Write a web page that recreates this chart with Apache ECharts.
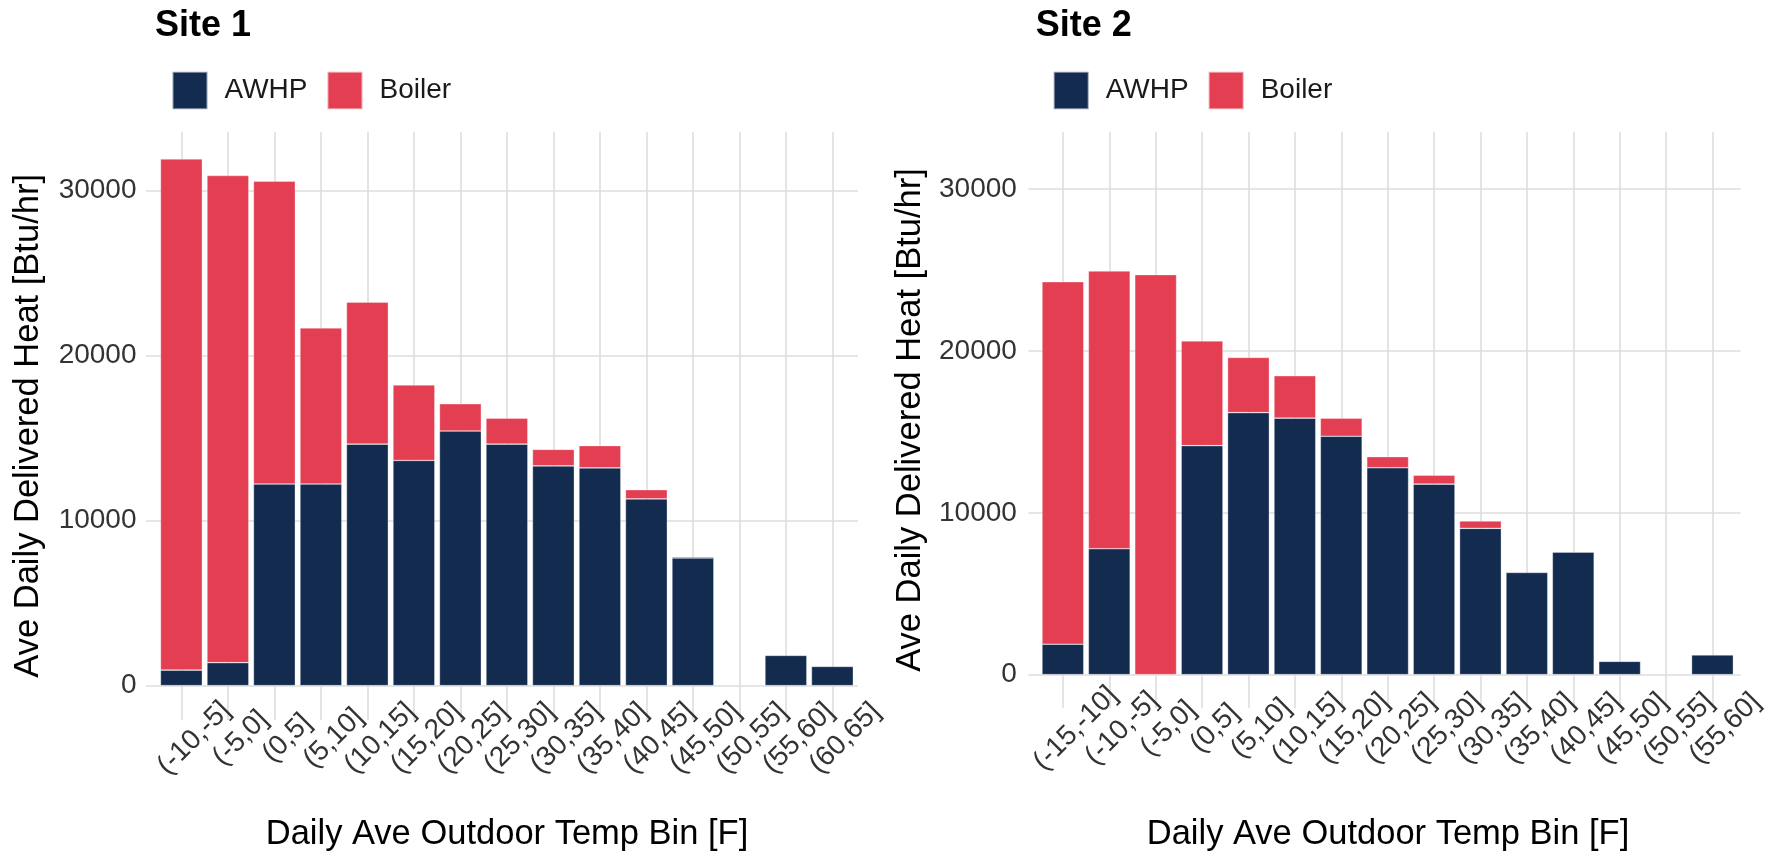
<!DOCTYPE html>
<html>
<head>
<meta charset="utf-8">
<script src="https://cdn.jsdelivr.net/npm/echarts@6/dist/echarts.min.js"></script>
<style>
  html, body { margin: 0; padding: 0; background: #ffffff; }
  #chart { width: 1768px; height: 856px; }
</style>
</head>
<body>
<div id="chart"></div>
<script>
// Average daily delivered heat per outdoor temperature bin [Btu/hr]
const site1Bins = ['(-10,-5]', '(-5,0]', '(0,5]', '(5,10]', '(10,15]', '(15,20]', '(20,25]',
  '(25,30]', '(30,35]', '(35,40]', '(40,45]', '(45,50]', '(50,55]', '(55,60]', '(60,65]'];
const site1Awhp = [940, 1390, 12210, 12210, 14630, 13640, 15420, 14630, 13310, 13190, 11310, 7730, 0, 1830, 1160];
const site1Boiler = [30960, 29510, 18350, 9460, 8600, 4570, 1650, 1570, 1000, 1350, 560, 80, 0, 0, 0];

const site2Bins = ['(-15,-10]', '(-10,-5]', '(-5,0]', '(0,5]', '(5,10]', '(10,15]', '(15,20]',
  '(20,25]', '(25,30]', '(30,35]', '(35,40]', '(40,45]', '(45,50]', '(50,55]', '(55,60]'];
const site2Awhp = [1880, 7780, 0, 14150, 16190, 15850, 14730, 12780, 11770, 9040, 6310, 7570, 820, 0, 1210];
const site2Boiler = [22400, 17160, 24720, 6470, 3410, 2620, 1120, 690, 550, 450, 0, 0, 0, 0, 0];

const yTickStep = 10000;
const yTickTop = 30000;
const sourceNames = ['AWHP', 'Boiler'];
const xTitle = 'Daily Ave Outdoor Temp Bin [F]';
const yTitle = 'Ave Daily Delivered Heat [Btu/hr]';

// ---- styling / layout ----
const FONT = '"Liberation Sans", Arial, Helvetica, sans-serif';
const COLORS = { AWHP: '#132b4f', Boiler: '#e43e52' };
const GRID_LINE = { color: '#dedede', width: 1.6 };
const TICK_COLOR = '#333333';
const Y_MIN = -2083, Y_MAX = 33554;   // shared panel extent (data units)

const panels = [
  { title: 'Site 1', bins: site1Bins, awhp: site1Awhp, boiler: site1Boiler,
    barLeft: 158.15, barRight: 855.65, lineLeft: 146, lineRight: 858,
    top: 131.7, bottom: 720, labelMargin: 31, yLabelMargin: 9.5,
    titleX: 155, legendX: 171.5, xTitleX: 507, yTitleX: 28.8 },
  { title: 'Site 2', bins: site2Bins, awhp: site2Awhp, boiler: site2Boiler,
    barLeft: 1039.67, barRight: 1736.6, lineLeft: 1028.4, lineRight: 1740.7,
    top: 131.7, bottom: 708.3, labelMargin: 33, yLabelMargin: 11.5,
    titleX: 1035.7, legendX: 1052.7, xTitleX: 1388, yTitleX: 910.3 }
];

const W = 1768;
function valueToPx(p, v) {
  return p.top + (Y_MAX - v) / (Y_MAX - Y_MIN) * (p.bottom - p.top);
}

const grid = [], xAxis = [], yAxis = [], series = [], legend = [], graphic = [];

panels.forEach((p, i) => {
  // background grid: horizontal gridlines + value labels
  const bgTop = valueToPx(p, yTickTop);
  const bgBottom = valueToPx(p, 0);
  grid.push({ left: p.lineLeft, width: p.lineRight - p.lineLeft, top: bgTop, height: bgBottom - bgTop });
  xAxis.push({ gridIndex: 2 * i, type: 'value', min: 0, max: 1, show: false });
  yAxis.push({
    gridIndex: 2 * i, type: 'value', min: 0, max: yTickTop, interval: yTickStep,
    axisLine: { show: false }, axisTick: { show: false },
    axisLabel: { fontSize: 28, fontFamily: FONT, color: TICK_COLOR, margin: p.yLabelMargin,
      formatter: v => String(v) },
    splitLine: { show: true, lineStyle: GRID_LINE }
  });

  // bar grid: categories and stacked bars
  grid.push({ left: p.barLeft, width: p.barRight - p.barLeft, top: p.top, height: p.bottom - p.top });
  xAxis.push({
    gridIndex: 2 * i + 1, type: 'category', data: p.bins, boundaryGap: true,
    axisLine: { show: false, onZero: false }, axisTick: { show: false },
    splitLine: { show: true, interval: 0, alignWithLabel: true, lineStyle: GRID_LINE },
    axisLabel: {
      interval: 0, rotate: 45, align: 'center', verticalAlign: 'middle',
      margin: p.labelMargin, padding: [0, 0, 0, 36],
      fontSize: 28, fontFamily: FONT, color: TICK_COLOR
    }
  });
  yAxis.push({ gridIndex: 2 * i + 1, type: 'value', min: Y_MIN, max: Y_MAX, show: false });

  [['AWHP', p.awhp], ['Boiler', p.boiler]].forEach(([name, vals]) => {
    series.push({
      type: 'bar', name: name, stack: 'heat' + i,
      xAxisIndex: 2 * i + 1, yAxisIndex: 2 * i + 1,
      barCategoryGap: '10%',
      data: vals.map(v => (v > 0 ? v : '-')),
      itemStyle: { color: COLORS[name], borderColor: 'rgba(255,255,255,0.55)', borderWidth: 0.6 },
      silent: true
    });
  });

  legend.push({
    data: sourceNames, left: p.legendX, top: 70.8, padding: 0,
    icon: 'rect', itemWidth: 35, itemHeight: 37.5, itemGap: 19,
    selectedMode: false,
    textStyle: { fontSize: 28, fontFamily: FONT, color: '#1a1a1a', padding: [0, 0, 0, 12] }
  });

  // panel title
  graphic.push({
    type: 'text', x: p.titleX, y: 26.4, silent: true,
    style: { text: p.title, fill: '#000000', font: 'bold 36px ' + FONT,
      textAlign: 'left', textVerticalAlign: 'middle', align: 'left', verticalAlign: 'middle' }
  });
  // axis titles
  graphic.push({
    type: 'text', x: p.xTitleX, y: 834, silent: true,
    style: { text: xTitle, fill: '#000000', font: '34.5px ' + FONT,
      textAlign: 'center', textVerticalAlign: 'middle', align: 'center', verticalAlign: 'middle' }
  });
  graphic.push({
    type: 'text', x: p.yTitleX, y: (p.top + p.bottom) / 2, rotation: Math.PI / 2, silent: true,
    style: { text: yTitle, fill: '#000000', font: '34.5px ' + FONT,
      textAlign: 'center', textVerticalAlign: 'middle', align: 'center', verticalAlign: 'middle' }
  });
});

const chart = echarts.init(document.getElementById('chart'), null, { renderer: 'canvas', width: W, height: 856 });
chart.setOption({
  animation: false,
  backgroundColor: '#ffffff',
  textStyle: { fontFamily: FONT },
  grid, xAxis, yAxis, series, legend, graphic
});
</script>
</body>
</html>
